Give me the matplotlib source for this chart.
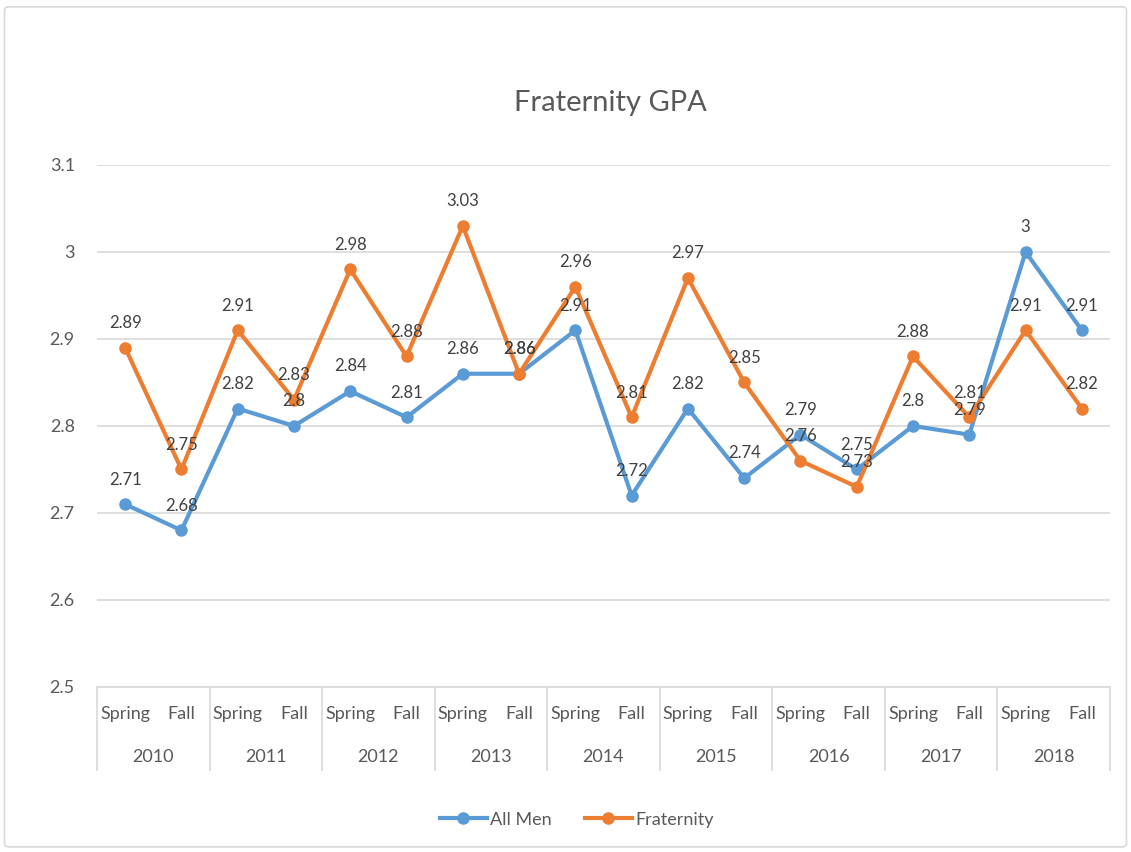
import matplotlib
matplotlib.use("Agg")
import matplotlib.pyplot as plt
from matplotlib.patches import FancyBboxPatch
from matplotlib.lines import Line2D
import matplotlib.transforms as mtransforms

plt.rcParams['font.family'] = ['Lato', 'DejaVu Sans']

years = ["2010", "2011", "2012", "2013", "2014", "2015", "2016", "2017", "2018"]
terms = ["Spring", "Fall"]
all_men = [2.71, 2.68, 2.82, 2.8, 2.84, 2.81, 2.86, 2.86, 2.91, 2.72,
           2.82, 2.74, 2.79, 2.75, 2.8, 2.79, 3, 2.91]
fraternity = [2.89, 2.75, 2.91, 2.83, 2.98, 2.88, 3.03, 2.86, 2.96, 2.81,
              2.97, 2.85, 2.76, 2.73, 2.88, 2.81, 2.91, 2.82]

BLUE = "#5B9BD5"
ORANGE = "#ED7D31"
TEXT = "#595959"
GRID = "#D9D9D9"

fig = plt.figure(figsize=(11.31, 8.52), dpi=100)
border = FancyBboxPatch((0.004, 0.006), 0.992, 0.986,
                        boxstyle="round,pad=0,rounding_size=0.004",
                        transform=fig.transFigure, fc="white",
                        ec=GRID, lw=1.2, zorder=-10)
fig.patches.append(border)

ax = fig.add_axes([0.0858, 0.1937, 0.8956, 0.6127])
ax.set_facecolor("none")
x = list(range(len(all_men)))

ax.plot(x, all_men, color=BLUE, lw=3, marker="o", ms=8, label="All Men", zorder=3)
ax.plot(x, fraternity, color=ORANGE, lw=3, marker="o", ms=8, label="Fraternity", zorder=4)

def fmt(v):
    return f"{v:g}"

for xi, v in zip(x, all_men):
    ax.annotate(fmt(v), (xi, v), xytext=(0, 12), textcoords="offset points",
                ha="center", va="bottom", fontsize=12, color="#404040", zorder=5)
for xi, v in zip(x, fraternity):
    ax.annotate(fmt(v), (xi, v), xytext=(0, 12), textcoords="offset points",
                ha="center", va="bottom", fontsize=12, color="#404040", zorder=5)

ax.set_xlim(-0.5, len(x) - 0.5)
ax.set_ylim(2.5, 3.1)
ax.set_yticks([2.5, 2.6, 2.7, 2.8, 2.9, 3.0, 3.1])
ax.set_yticklabels(["2.5", "2.6", "2.7", "2.8", "2.9", "3", "3.1"])
ax.yaxis.grid(True, color=GRID, lw=1.2)
ax.set_axisbelow(True)
for s in ["left", "right", "top"]:
    ax.spines[s].set_visible(False)
ax.spines["bottom"].set_color(GRID)
ax.spines["bottom"].set_linewidth(1.2)
ax.tick_params(axis="y", length=0, pad=16, labelsize=13, labelcolor=TEXT)

ax.set_xticks(x)
ax.set_xticklabels(terms * len(years))
ax.tick_params(axis="x", length=0, pad=14, labelsize=13, labelcolor=TEXT)

trans = mtransforms.blended_transform_factory(ax.transData, ax.transAxes)
ax_h = 0.6127 * 8.52 * 100
for i in range(len(years) + 1):
    ax.add_line(Line2D([2 * i - 0.5, 2 * i - 0.5], [0, -83 / ax_h], transform=trans,
                       color=GRID, lw=1.2, clip_on=False))
for i, yr in enumerate(years):
    ax.text(2 * i + 0.5, -70 / ax_h, yr, transform=trans, ha="center", va="center",
            fontsize=13, color=TEXT)

fig.text(0.54, 0.879, "Fraternity GPA", ha="center", va="center", fontsize=21, color=TEXT)

ax.legend(loc="center", bbox_to_anchor=(0.51, 0.038), bbox_transform=fig.transFigure,
          ncol=2, frameon=False, fontsize=13, labelcolor=TEXT, handlelength=2.6,
          columnspacing=1.8, handletextpad=0.2)

fig.savefig("out.png", dpi=100)
